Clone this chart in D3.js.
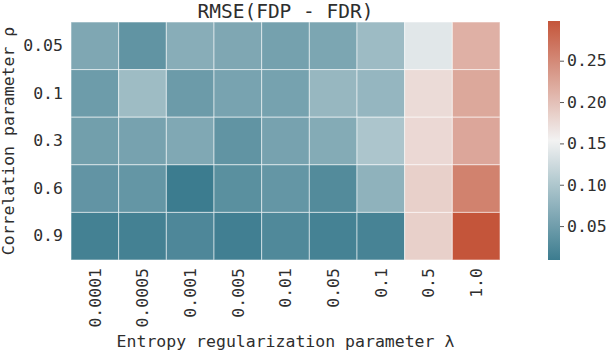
<!DOCTYPE html>
<html><head><meta charset="utf-8">
<script src="https://cdn.jsdelivr.net/npm/d3@7"></script>
<style>body{margin:0;background:#fff}svg{display:block}text{font-family:"DejaVu Sans Mono",monospace;fill:#2e2e2e}</style>
</head><body><svg id="c" width="608" height="352"></svg>
<script>
const rows = ["0.05","0.1","0.3","0.6","0.9"];
const cols = ["0.0001","0.0005","0.001","0.005","0.01","0.05","0.1","0.5","1.0"];
const v005 = [0.062,0.038,0.069,0.062,0.054,0.060,0.086,0.140,0.214];
const v01  = [0.048,0.087,0.047,0.057,0.055,0.081,0.080,0.175,0.222];
const v03  = [0.052,0.056,0.063,0.038,0.056,0.066,0.098,0.177,0.223];
const v06  = [0.039,0.041,0.009,0.033,0.041,0.027,0.075,0.185,0.257];
const v09  = [0.015,0.015,0.023,0.013,0.025,0.016,0.018,0.185,0.298];
const values = [v005,v01,v03,v06,v09];
const cbarTicks = [0.05,0.10,0.15,0.20,0.25];
const title = "RMSE(FDP - FDR)";
const xLabel = "Entropy regularization parameter λ";
const yLabel = "Correlation parameter ρ";

const svg = d3.select("#c");
const all = values.flat();
const vmin = d3.min(all), vmax = d3.max(all);
const color = d3.scaleLinear().domain([vmin,(vmin+vmax)/2,vmax])
  .range(["rgb(60,124,143)","rgb(242,242,242)","rgb(196,85,58)"]).interpolate(d3.interpolateRgb);

const L=71,R=500,T=22,B=260;
const x = d3.scaleBand().domain(cols).range([L,R]);
const y = d3.scaleBand().domain(rows).range([T,B]);

const cells = [];
rows.forEach((r,i)=>cols.forEach((c,j)=>cells.push({r,c,v:values[i][j]})));
svg.append("g").selectAll("rect").data(cells).join("rect")
  .attr("x",d=>x(d.c)).attr("y",d=>y(d.r))
  .attr("width",x.bandwidth()).attr("height",y.bandwidth())
  .attr("fill",d=>color(d.v))
  .attr("stroke","rgba(255,255,255,0.55)").attr("stroke-width",1);

const ya = svg.append("g").attr("transform",`translate(${L},0)`)
  .call(d3.axisLeft(y).tickSize(0).tickPadding(8));
ya.select(".domain").remove();
ya.selectAll("text").style("font-size","16.5px").attr("fill","#2e2e2e");

const xa = svg.append("g").attr("transform",`translate(0,${B})`)
  .call(d3.axisBottom(x).tickSize(0));
xa.select(".domain").remove();
xa.selectAll("text").style("font-size","16.5px").attr("fill","#2e2e2e")
  .attr("transform","rotate(-90)").attr("text-anchor","end")
  .attr("x",-8).attr("y",0).attr("dy","0.35em");

svg.append("text").attr("x",(L+R)/2).attr("y",18).attr("text-anchor","middle")
  .style("font-size","19.5px").text(title);
svg.append("text").attr("x",(L+R)/2).attr("y",347).attr("text-anchor","middle")
  .style("font-size","16.5px").text(xLabel);
svg.append("text").attr("transform",`translate(14,${(T+B)/2}) rotate(-90)`).attr("text-anchor","middle")
  .style("font-size","16.5px").text(yLabel);

const cbX=548,cbW=12,cbT=21,cbB=260;
const cy = d3.scaleLinear().domain([vmin,vmax]).range([cbB,cbT]);
const defs = svg.append("defs");
const grad = defs.append("linearGradient").attr("id","g").attr("x1",0).attr("y1",1).attr("x2",0).attr("y2",0);
d3.range(0,1.0001,0.05).forEach(t=>grad.append("stop").attr("offset",t).attr("stop-color",color(vmin+t*(vmax-vmin))));
svg.append("rect").attr("x",cbX).attr("y",cbT).attr("width",cbW).attr("height",cbB-cbT).attr("fill","url(#g)");
const ca = svg.append("g").attr("transform",`translate(${cbX+cbW},0)`)
  .call(d3.axisRight(cy).tickValues(cbarTicks).tickFormat(d3.format(".2f")).tickSize(4).tickPadding(3));
ca.select(".domain").remove();
ca.selectAll("line").attr("stroke","#2e2e2e").attr("stroke-width",0.8);
ca.selectAll("text").style("font-size","16.5px").attr("fill","#2e2e2e");
</script></body></html>
